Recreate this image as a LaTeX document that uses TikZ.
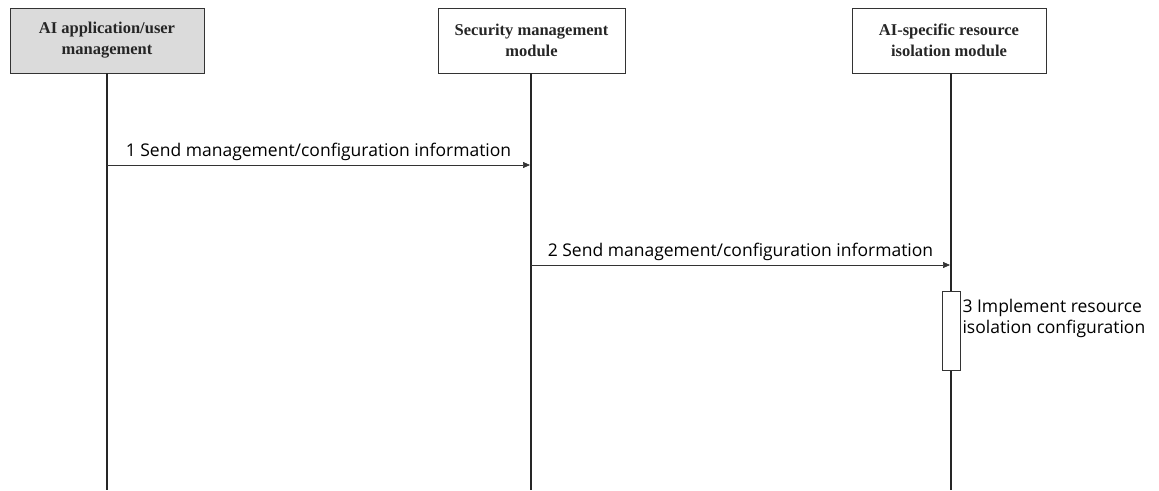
\documentclass[tikz,border=0pt]{standalone}
\usepackage{fontspec}
\setmainfont{Liberation Serif}
\newfontfamily\msgfont{Open Sans}
\usetikzlibrary{arrows.meta}
\begin{document}
\begin{tikzpicture}[x=1pt,y=-1pt,
  actor/.style={draw=black!80,line width=0.8pt,minimum width=194pt,minimum height=65pt,
    align=center,font=\bfseries\fontsize{16.5}{21}\selectfont,inner sep=0pt,text=black!85},
  lifeline/.style={line width=2pt,black!85},
  msg/.style={line width=0.7pt,black!80,-{Triangle[length=7pt,width=6pt]}},
  msgtext/.style={font=\msgfont\fontsize{17.5}{21}\selectfont,inner sep=0pt,text=black},
  act/.style={draw=black!80,fill=white,line width=0.7pt,minimum width=18pt,minimum height=79pt,inner sep=0pt}]
\useasboundingbox (0,0) rectangle (1159,490);
% participants
\node[actor,fill=black!14] (A) at (107,40.5) {AI application/user\\management};
\node[actor,minimum width=187pt] (S) at (531.5,40.5) {Security management\\module};
\node[actor] (R) at (949,40.5) {AI-specific resource\\isolation module};
% lifeline ends
\coordinate (Aend) at (107,490);
\coordinate (Send) at (531,490);
\coordinate (Rend) at (951,490);
\draw[lifeline] (A.south) -- (Aend);
\draw[lifeline] (S.south -| Send) -- (Send);
\draw[lifeline] (R.south -| Rend) -- (Rend);
% messages
\coordinate (m1a) at (107,165);
\coordinate (m1b) at (530,165);
\coordinate (m2a) at (531,265);
\coordinate (m2b) at (950,265);
\draw[msg] (m1a) -- node[msgtext,above=4pt] {1 Send management/configuration information} (m1b);
\draw[msg] (m2a) -- node[msgtext,above=4pt] {2 Send management/configuration information} (m2b);
% activation
\node[act] (X) at (951,330.5) {};
\node[msgtext,anchor=north west,align=left] (XT) at ([xshift=2pt,yshift=-8pt]X.north east) {3 Implement resource\\isolation configuration};
\end{tikzpicture}
\end{document}
